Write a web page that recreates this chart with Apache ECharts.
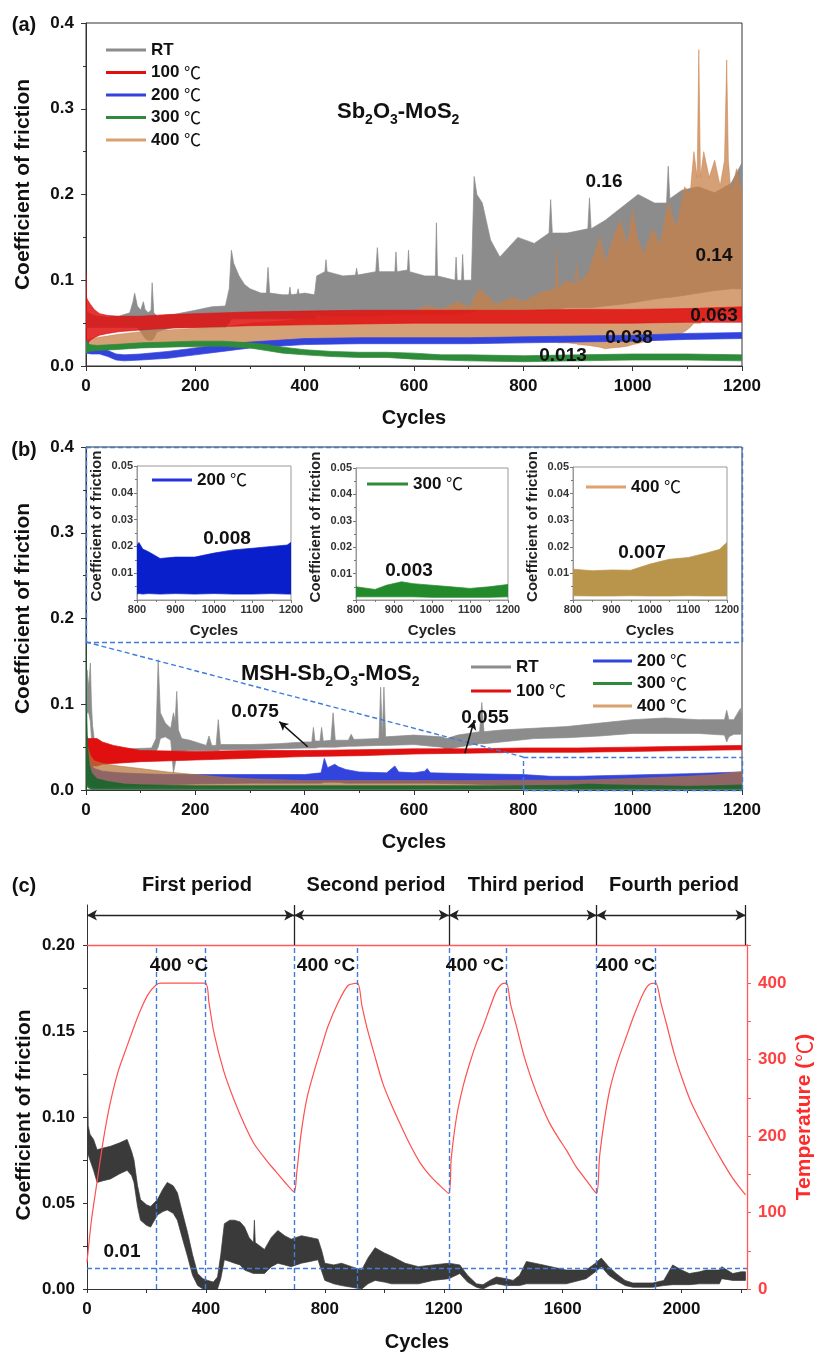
<!DOCTYPE html>
<html>
<head>
<meta charset="utf-8">
<script src="https://cdn.jsdelivr.net/npm/echarts@6/dist/echarts.min.js"></script>
<style>
  html, body { margin: 0; padding: 0; background: #fff; }
  #main { width: 816px; height: 1353px; }
</style>
</head>
<body>
<div id="main"></div>
<script>
var FONT = '"Liberation Sans", Arial, sans-serif';
var CJK = '"Noto Sans CJK SC", sans-serif';

// every noisy trace is kept as its envelope: [cycle, upper, lower]

// (a) Sb2O3-MoS2
var aRT = [[0,0.065,0.045],[5,0.062,0.045],[10,0.06,0.045],[20,0.058,0.045],[40,0.057,0.045],[60,0.058,0.045],[80,0.062,0.045],[86,0.075,0.045],[89,0.085,0.045],[94,0.07,0.045],[100,0.065,0.04],[105,0.075,0.035],[108,0.066,0.032],[114,0.062,0.03],[119,0.065,0.03],[121,0.097,0.03],[124,0.062,0.032],[130,0.058,0.04],[160,0.06,0.045],[200,0.065,0.045],[230,0.069,0.045],[255,0.07,0.045],[262,0.09,0.05],[266,0.135,0.055],[270,0.12,0.055],[280,0.105,0.055],[290,0.095,0.055],[300,0.09,0.055],[320,0.085,0.055],[330,0.085,0.055],[333,0.115,0.055],[336,0.085,0.055],[360,0.083,0.055],[371,0.083,0.055],[373,0.092,0.055],[375,0.083,0.055],[386,0.084,0.055],[388,0.09,0.055],[390,0.084,0.055],[400,0.085,0.055],[418,0.083,0.055],[422,0.105,0.058],[437,0.11,0.058],[439,0.124,0.058],[441,0.11,0.058],[470,0.105,0.058],[493,0.106,0.058],[495,0.114,0.058],[497,0.106,0.058],[530,0.11,0.058],[533,0.138,0.058],[536,0.11,0.058],[565,0.11,0.06],[567,0.133,0.06],[569,0.11,0.06],[588,0.112,0.06],[590,0.135,0.06],[592,0.11,0.06],[620,0.105,0.06],[639,0.105,0.06],[641,0.167,0.06],[643,0.105,0.06],[675,0.1,0.06],[677,0.127,0.06],[679,0.1,0.06],[687,0.1,0.06],[689,0.13,0.06],[691,0.1,0.062],[705,0.1,0.062],[710,0.221,0.062],[715,0.2,0.065],[725,0.19,0.065],[740,0.147,0.065],[757,0.127,0.065],[790,0.15,0.065],[820,0.143,0.065],[847,0.155,0.065],[850,0.194,0.065],[853,0.155,0.065],[880,0.155,0.068],[918,0.16,0.068],[921,0.196,0.068],[924,0.16,0.068],[950,0.17,0.07],[980,0.185,0.072],[1010,0.2,0.075],[1040,0.19,0.078],[1062,0.19,0.08],[1065,0.233,0.08],[1068,0.195,0.08],[1090,0.205,0.082],[1120,0.209,0.085],[1150,0.202,0.088],[1180,0.213,0.09],[1200,0.237,0.09]];
var a100 = [[0,0.108,0.02],[1,0.08,0.022],[3,0.077,0.026],[8,0.072,0.03],[15,0.066,0.033],[25,0.061,0.036],[40,0.059,0.038],[60,0.058,0.04],[100,0.058,0.042],[150,0.06,0.044],[200,0.061,0.045],[300,0.063,0.047],[400,0.064,0.048],[500,0.065,0.049],[600,0.065,0.05],[700,0.065,0.05],[800,0.065,0.05],[900,0.066,0.05],[1000,0.066,0.05],[1100,0.067,0.051],[1200,0.069,0.051]];
var a200 = [[0,0.03,0.015],[10,0.022,0.014],[25,0.021,0.014],[40,0.018,0.011],[55,0.014,0.007],[70,0.013,0.006],[100,0.014,0.007],[150,0.017,0.009],[200,0.021,0.013],[250,0.025,0.017],[300,0.028,0.021],[350,0.03,0.023],[400,0.032,0.025],[500,0.033,0.026],[600,0.033,0.026],[700,0.033,0.026],[800,0.034,0.027],[900,0.035,0.028],[1000,0.036,0.029],[1100,0.038,0.031],[1200,0.039,0.032]];
var a300 = [[0,0.03,0.015],[5,0.025,0.017],[20,0.024,0.018],[50,0.025,0.019],[100,0.027,0.021],[150,0.028,0.022],[200,0.029,0.023],[250,0.029,0.023],[300,0.027,0.021],[330,0.025,0.018],[360,0.022,0.015],[400,0.019,0.013],[450,0.017,0.011],[500,0.016,0.01],[550,0.016,0.01],[600,0.015,0.008],[650,0.013,0.007],[700,0.013,0.006],[800,0.012,0.005],[900,0.013,0.006],[1000,0.014,0.007],[1100,0.014,0.007],[1200,0.013,0.006]];
var a400 = [[0,0.03,0.018],[10,0.032,0.019],[30,0.034,0.02],[60,0.037,0.021],[100,0.04,0.022],[150,0.042,0.023],[200,0.044,0.022],[250,0.045,0.021],[280,0.048,0.021],[300,0.05,0.022],[350,0.052,0.025],[400,0.055,0.027],[450,0.058,0.028],[500,0.06,0.029],[550,0.062,0.03],[600,0.064,0.032],[625,0.07,0.032],[650,0.066,0.032],[680,0.075,0.032],[700,0.068,0.032],[720,0.09,0.031],[750,0.072,0.031],[780,0.08,0.03],[800,0.075,0.03],[830,0.085,0.029],[859,0.09,0.028],[861,0.132,0.028],[864,0.09,0.027],[880,0.1,0.027],[895,0.095,0.026],[897,0.12,0.026],[900,0.095,0.025],[920,0.11,0.024],[940,0.15,0.022],[950,0.12,0.02],[960,0.14,0.021],[977,0.17,0.022],[990,0.14,0.023],[1000,0.182,0.025],[1008,0.15,0.026],[1020,0.13,0.028],[1037,0.16,0.03],[1050,0.14,0.032],[1065,0.19,0.034],[1080,0.16,0.036],[1095,0.209,0.04],[1105,0.2,0.045],[1112,0.25,0.05],[1118,0.22,0.05],[1121,0.369,0.05],[1124,0.22,0.05],[1130,0.25,0.055],[1140,0.22,0.058],[1150,0.24,0.06],[1160,0.21,0.06],[1168,0.24,0.06],[1172,0.357,0.06],[1175,0.24,0.06],[1180,0.2,0.06],[1190,0.23,0.055],[1200,0.2,0.055]];

// (b) MSH-Sb2O3-MoS2
var bRT = [[0,0.13,0.09],[2,0.14,0.09],[5,0.12,0.09],[8,0.148,0.08],[10,0.1,0.06],[12,0.075,0.05],[15,0.06,0.045],[20,0.05,0.044],[40,0.048,0.044],[80,0.048,0.044],[120,0.049,0.045],[128,0.06,0.045],[132,0.152,0.05],[136,0.09,0.06],[145,0.078,0.062],[155,0.072,0.058],[160,0.09,0.02],[163,0.08,0.03],[166,0.115,0.045],[169,0.07,0.045],[175,0.06,0.045],[190,0.058,0.046],[220,0.052,0.046],[225,0.063,0.046],[230,0.052,0.046],[238,0.052,0.046],[242,0.082,0.046],[246,0.053,0.047],[300,0.053,0.047],[350,0.054,0.048],[400,0.056,0.049],[413,0.056,0.049],[416,0.073,0.049],[419,0.057,0.049],[428,0.057,0.05],[431,0.073,0.05],[434,0.057,0.05],[448,0.058,0.05],[452,0.09,0.05],[456,0.058,0.05],[480,0.058,0.051],[485,0.065,0.051],[490,0.059,0.051],[536,0.06,0.052],[539,0.12,0.052],[542,0.062,0.052],[545,0.12,0.052],[548,0.062,0.052],[600,0.064,0.053],[650,0.062,0.05],[660,0.06,0.047],[680,0.064,0.05],[700,0.066,0.052],[720,0.068,0.054],[724,0.102,0.054],[728,0.068,0.054],[760,0.07,0.056],[820,0.072,0.06],[880,0.074,0.061],[940,0.078,0.063],[1000,0.082,0.066],[1060,0.084,0.066],[1120,0.082,0.066],[1168,0.082,0.064],[1172,0.093,0.056],[1176,0.082,0.062],[1185,0.082,0.065],[1197,0.095,0.065],[1200,0.082,0.066]];
var b100 = [[0,0.065,0.02],[3,0.06,0.025],[10,0.06,0.028],[20,0.06,0.028],[30,0.056,0.03],[50,0.052,0.031],[100,0.046,0.033],[200,0.045,0.035],[300,0.046,0.037],[400,0.046,0.039],[500,0.047,0.04],[600,0.048,0.042],[700,0.048,0.043],[800,0.049,0.044],[900,0.049,0.044],[1000,0.05,0.045],[1100,0.051,0.046],[1200,0.052,0.047]];
var b200 = [[0,0.065,0.03],[3,0.045,0.01],[8,0.03,0.004],[15,0.025,0.003],[30,0.022,0.003],[60,0.02,0.004],[100,0.019,0.005],[150,0.018,0.006],[200,0.018,0.007],[300,0.018,0.008],[400,0.018,0.008],[430,0.02,0.008],[436,0.037,0.009],[442,0.026,0.009],[455,0.03,0.009],[462,0.027,0.009],[475,0.024,0.008],[500,0.021,0.008],[550,0.02,0.008],[565,0.028,0.008],[572,0.021,0.008],[600,0.02,0.008],[620,0.022,0.008],[624,0.025,0.008],[630,0.02,0.008],[700,0.019,0.007],[800,0.018,0.005],[850,0.016,0.003],[900,0.016,0.003],[1000,0.0175,0.003],[1100,0.019,0.003],[1200,0.021,0.003]];
var b300 = [[0,0.172,0.0],[1,0.1,0.01],[3,0.05,0.003],[6,0.03,0.002],[10,0.02,0.001],[20,0.013,0.001],[40,0.01,0.001],[70,0.007,0.001],[100,0.006,0.001],[200,0.005,0.001],[400,0.005,0.001],[600,0.005,0.001],[800,0.005,0.0012],[880,0.0056,0.001],[920,0.0069,0.001],[950,0.0062,0.001],[1000,0.0056,0.001],[1050,0.005,0.001],[1100,0.0044,0.001],[1150,0.005,0.001],[1200,0.0059,0.001]];
var b400 = [[0,0.075,0.01],[3,0.05,0.005],[8,0.04,0.004],[15,0.034,0.004],[30,0.031,0.003],[60,0.028,0.003],[100,0.025,0.003],[150,0.021,0.003],[200,0.018,0.003],[250,0.015,0.003],[300,0.013,0.003],[400,0.011,0.003],[500,0.011,0.002],[600,0.011,0.002],[700,0.011,0.002],[800,0.0115,0.002],[900,0.0113,0.002],[1000,0.0135,0.002],[1100,0.016,0.002],[1150,0.0178,0.002],[1200,0.0216,0.002]];

// (b) insets, 800-1200 cycles
var i200 = [[800,0.0205,0.0022],[805,0.0215,0.0024],[815,0.019,0.0022],[830,0.018,0.0024],[860,0.0155,0.0022],[900,0.016,0.0024],[950,0.016,0.0022],[1000,0.0175,0.0024],[1050,0.0187,0.0022],[1100,0.0193,0.0022],[1150,0.02,0.0024],[1190,0.0205,0.0022],[1200,0.0215,0.0022]];
var i300 = [[800,0.005,0.0012],[850,0.004,0.0012],[880,0.0056,0.0012],[920,0.0069,0.0012],[950,0.0062,0.0012],[1000,0.0056,0.001],[1050,0.005,0.001],[1100,0.0044,0.001],[1150,0.005,0.001],[1200,0.0059,0.0012]];
var i400 = [[800,0.0116,0.0016],[850,0.011,0.0015],[900,0.0113,0.0015],[950,0.0112,0.0016],[1000,0.0135,0.0015],[1050,0.0153,0.0015],[1100,0.016,0.0016],[1150,0.0178,0.0015],[1180,0.019,0.0015],[1195,0.021,0.0015],[1200,0.0216,0.0016]];

// (c) thermal cycling
var cFriction = [[0,0.09,0.075],[2,0.139,0.08],[4,0.095,0.078],[10,0.09,0.075],[22,0.087,0.069],[34,0.081,0.062],[55,0.082,0.063],[79,0.083,0.064],[110,0.085,0.067],[135,0.087,0.069],[150,0.08,0.066],[158,0.075,0.062],[170,0.06,0.048],[180,0.052,0.04],[200,0.049,0.037],[214,0.048,0.036],[237,0.052,0.043],[255,0.058,0.045],[270,0.062,0.046],[290,0.06,0.044],[304,0.056,0.04],[320,0.045,0.03],[338,0.033,0.019],[355,0.02,0.008],[372,0.009,0.002],[390,0.006,0.0],[406,0.005,0.0],[425,0.004,0.0],[439,0.007,0.0],[450,0.02,0.006],[462,0.038,0.017],[480,0.04,0.016],[496,0.04,0.015],[515,0.039,0.014],[530,0.036,0.011],[545,0.03,0.01],[560,0.027,0.009],[563,0.04,0.009],[566,0.027,0.009],[597,0.023,0.009],[620,0.03,0.013],[642,0.034,0.015],[665,0.031,0.014],[687,0.029,0.013],[721,0.031,0.015],[750,0.03,0.016],[777,0.029,0.017],[790,0.022,0.01],[800,0.015,0.005],[830,0.014,0.003],[856,0.015,0.002],[890,0.013,0.001],[924,0.011,0.0],[945,0.018,0.003],[969,0.024,0.005],[1000,0.021,0.004],[1025,0.019,0.003],[1070,0.015,0.003],[1115,0.013,0.003],[1164,0.014,0.005],[1217,0.015,0.006],[1254,0.014,0.009],[1280,0.008,0.004],[1310,0.003,0.001],[1332,0.0025,0.0],[1355,0.005,0.002],[1377,0.007,0.003],[1410,0.006,0.002],[1433,0.005,0.002],[1455,0.008,0.002],[1478,0.016,0.003],[1534,0.014,0.003],[1612,0.011,0.003],[1679,0.011,0.006],[1710,0.015,0.01],[1730,0.018,0.013],[1755,0.013,0.008],[1780,0.009,0.005],[1810,0.005,0.002],[1836,0.0035,0.001],[1903,0.0035,0.001],[1940,0.005,0.002],[1970,0.014,0.0025],[2000,0.011,0.0025],[2026,0.009,0.0025],[2060,0.01,0.003],[2082,0.011,0.003],[2127,0.011,0.003],[2135,0.013,0.006],[2172,0.009,0.005],[2200,0.01,0.005],[2215,0.01,0.005]];
var cTemp = [[0,35],[15,90],[33,138],[55,195],[78,243],[105,285],[134,317],[160,345],[179,364],[205,385],[233,398],[250,400],[397,400],[410,375],[427,335],[460,285],[495,247],[530,215],[562,190],[600,170],[630,156],[665,140],[697,127],[705,150],[720,203],[740,250],[765,286],[790,318],[810,343],[845,375],[878,397],[910,400],[925,370],[941,343],[968,305],[995,269],[1025,240],[1052,217],[1085,190],[1119,166],[1150,150],[1185,136],[1217,125],[1225,170],[1243,225],[1265,265],[1287,295],[1310,322],[1332,343],[1355,368],[1377,390],[1395,399],[1411,400],[1425,372],[1445,343],[1470,305],[1500,269],[1528,241],[1556,217],[1585,198],[1612,182],[1645,160],[1680,142],[1714,125],[1724,173],[1740,220],[1758,260],[1785,298],[1814,330],[1840,358],[1870,386],[1890,398],[1913,400],[1930,375],[1949,347],[1975,308],[2004,273],[2030,246],[2061,221],[2095,196],[2128,173],[2170,146],[2215,123]];
var cPeriodEdges = [0, 697, 1217, 1714, 2215];
var cBlueX = [232, 397, 697, 910, 1217, 1411, 1714, 1913];
var cLevel = 0.012;
var cXLabels = [0, 400, 800, 1200, 1600, 2000];
var cXTicks = [0, 200, 400, 600, 800, 1000, 1200, 1400, 1600, 1800, 2000, 2200];
var cYLabels = [0, 0.05, 0.1, 0.15, 0.2];
var cYTicks = [0, 0.025, 0.05, 0.075, 0.1, 0.125, 0.15, 0.175, 0.2];

var chart = echarts.init(document.getElementById('main'));

function lab(size, color) {
  return {fontFamily: FONT, fontWeight: 'bold', fontSize: size, color: color || '#111'};
}
function plain(v) { return String(v); }

// envelope polygon: upper edge forward, lower edge back, placed with the axis scales
function band(rows, name, gi, color, op, z) {
  return {
    name: name, type: 'custom', xAxisIndex: gi, yAxisIndex: gi, z: z, silent: true,
    color: color, clip: true,
    data: rows,
    encode: {x: 0, y: [1, 2]},
    renderItem: function (params, api) {
      if (params.dataIndex !== 0) return null;
      var pts = [];
      for (var i = 0; i < rows.length; i++) pts.push(api.coord([rows[i][0], rows[i][1]]));
      for (var j = rows.length - 1; j >= 0; j--) pts.push(api.coord([rows[j][0], rows[j][2]]));
      return {
        type: 'polygon', shape: {points: pts},
        style: {fill: color, stroke: color, lineWidth: 0.7, opacity: op}
      };
    }
  };
}

function mainX(gi) {
  return {
    gridIndex: gi, type: 'value', min: 0, max: 1200, interval: 200,
    axisLine: {show: true, onZero: false, lineStyle: {color: '#333'}},
    axisTick: {show: true, length: 5, lineStyle: {color: '#333'}},
    minorTick: {show: true, splitNumber: 2, length: 3, lineStyle: {color: '#333'}},
    splitLine: {show: false}, minorSplitLine: {show: false},
    axisLabel: Object.assign(lab(17), {margin: 12, formatter: plain}),
    name: 'Cycles', nameLocation: 'middle', nameGap: 42, nameMoveOverlap: false,
    nameTextStyle: lab(20)
  };
}
function mainY(gi) {
  return {
    gridIndex: gi, type: 'value', min: 0, max: 0.4, interval: 0.1,
    axisLine: {show: true, onZero: false, lineStyle: {color: '#333'}},
    axisTick: {show: true, length: 5, lineStyle: {color: '#333'}},
    minorTick: {show: true, splitNumber: 2, length: 3, lineStyle: {color: '#333'}},
    splitLine: {show: false}, minorSplitLine: {show: false},
    axisLabel: Object.assign(lab(17), {margin: 12, formatter: function (v) { return v.toFixed(1); }}),
    name: 'Coefficient of friction', nameLocation: 'middle', nameGap: 52, nameRotate: 90, nameMoveOverlap: false,
    nameTextStyle: Object.assign(lab(21), {padding: [0, 0, 0, 20]})
  };
}
function insetX(gi) {
  return {
    gridIndex: gi, type: 'value', min: 800, max: 1200, interval: 100,
    axisLine: {show: true, onZero: false, lineStyle: {color: '#999'}},
    axisTick: {show: true, length: 3, lineStyle: {color: '#777'}},
    minorTick: {show: true, splitNumber: 2, length: 2, lineStyle: {color: '#777'}},
    splitLine: {show: false},
    axisLabel: Object.assign(lab(11, '#333'), {margin: 4, formatter: plain}),
    name: 'Cycles', nameLocation: 'middle', nameGap: 23, nameMoveOverlap: false,
    nameTextStyle: lab(15, '#222')
  };
}
function insetY(gi) {
  return {
    gridIndex: gi, type: 'value', min: 0, max: 0.05, interval: 0.01,
    axisLine: {show: true, onZero: false, lineStyle: {color: '#999'}},
    axisTick: {show: true, length: 3, lineStyle: {color: '#777'}},
    minorTick: {show: true, splitNumber: 2, length: 2, lineStyle: {color: '#777'}},
    splitLine: {show: false},
    axisLabel: Object.assign(lab(11, '#333'), {margin: 4, showMinLabel: false, formatter: function (v) { return v.toFixed(2); }}),
    name: 'Coefficient of friction', nameLocation: 'middle', nameGap: 33, nameRotate: 90, nameMoveOverlap: false,
    nameTextStyle: Object.assign(lab(15, '#222'), {padding: [0, 0, 0, 14]})
  };
}

function legendBox(left, top, gap, itemW, items) {
  return {
    left: left, top: top, orient: 'vertical', itemWidth: itemW, itemHeight: 3, itemGap: gap,
    selectedMode: false, padding: 0,
    textStyle: {fontFamily: FONT, fontWeight: 'bold', fontSize: 17, color: '#111', lineHeight: 18,
      rich: {u: {fontFamily: CJK, fontWeight: 'normal', fontSize: 17, color: '#111', lineHeight: 18}}},
    formatter: function (n) { return n.replace('℃', '{u|℃}'); },
    data: items.map(function (it) { return {name: it[0], icon: 'rect', itemStyle: {color: it[1], borderWidth: 0}}; })
  };
}

function seg(p, q) { return [{coord: p}, {coord: q}]; }

var series = [
  band(aRT, 'RT', 0, '#8c8c8c', 1, 2),
  band(a400, '400 ℃', 0, '#c8804a', 0.75, 2),
  band(a100, '100 ℃', 0, '#e01010', 0.85, 2),
  band(a200, '200 ℃', 0, '#3344dd', 1, 2),
  band(a300, '300 ℃', 0, '#2e8b3a', 1, 2),
  band(bRT, 'RT', 1, '#8c8c8c', 1, 2),
  band(b100, '100 ℃', 1, '#e01010', 1, 2),
  band(b200, '200 ℃', 1, '#3344dd', 1, 2),
  band(b400, '400 ℃', 1, '#b47238', 0.72, 2),
  band(b300, '300 ℃', 1, '#17652a', 0.9, 2),
  band(i200, '200 ℃', 2, '#0a1fcc', 1, 2),
  band(i300, '300 ℃', 3, '#238a2b', 1, 2),
  band(i400, '400 ℃', 4, '#b8954a', 1, 2),
  band(cFriction, 'COF', 5, '#3a3a3a', 1, 2)
];

series.push({
  name: 'Temperature', type: 'line', xAxisIndex: 6, yAxisIndex: 6, z: 3,
  symbol: 'none', smooth: 0.25, silent: true,
  lineStyle: {color: '#ff4f4f', width: 1.2},
  data: cTemp
});

// zoom frame of panel (b)
series.push({
  name: '_zoomb', type: 'line', xAxisIndex: 1, yAxisIndex: 1, data: [], z: 5,
  markLine: {
    silent: true, animation: false, symbol: 'none', label: {show: false},
    lineStyle: {color: '#3f7bd8', width: 1.4, type: [5, 3]},
    data: [
      seg([0, 0.4], [1200, 0.4]), seg([1200, 0.1726], [1200, 0.4]), seg([0, 0.1726], [0, 0.4]),
      seg([0, 0.1726], [1200, 0.1726]), seg([0, 0.1726], [800, 0.0385]),
      seg([800, 0.0385], [1200, 0.0385]), seg([800, 0], [800, 0.0385]),
      seg([1200, 0], [1200, 0.0385]), seg([800, 0], [1200, 0])
    ]
  }
});
series.push({
  name: '_arrowb', type: 'line', xAxisIndex: 1, yAxisIndex: 1, data: [], z: 6,
  markLine: {
    silent: true, animation: false, symbol: ['none', 'arrow'], symbolSize: [7, 9], label: {show: false},
    lineStyle: {color: '#111', width: 1.5, type: 'solid'},
    data: [seg([405.5, 0.0505], [353.6, 0.0797]), seg([693, 0.0428], [710, 0.0808])]
  }
});

// guides of panel (c)
var cBlue = cBlueX.map(function (x) { return seg([x, 0], [x, 0.2]); });
cBlue.push(seg([0, cLevel], [2220, cLevel]));
series.push({
  name: '_bluec', type: 'line', xAxisIndex: 5, yAxisIndex: 5, data: [], z: 5,
  markLine: {
    silent: true, animation: false, symbol: 'none', label: {show: false},
    lineStyle: {color: '#3f7bd8', width: 1.4, type: [5, 3]},
    data: cBlue
  }
});
var cBlack = cPeriodEdges.slice(1).map(function (x) { return seg([x, 0.2], [x, 0.2233]); });
series.push({
  name: '_edgec', type: 'line', xAxisIndex: 5, yAxisIndex: 5, data: [], z: 5,
  markLine: {
    silent: true, animation: false, symbol: 'none', label: {show: false},
    lineStyle: {color: '#222', width: 1.3, type: 'solid'},
    data: cBlack
  }
});
var cArrows = [];
for (var k = 0; k < cPeriodEdges.length - 1; k++) {
  cArrows.push(seg([cPeriodEdges[k], 0.2174], [cPeriodEdges[k + 1], 0.2174]));
}
series.push({
  name: '_arrowc', type: 'line', xAxisIndex: 5, yAxisIndex: 5, data: [], z: 5,
  markLine: {
    silent: true, animation: false, symbol: ['arrow', 'arrow'], symbolSize: [8, 10], label: {show: false},
    lineStyle: {color: '#222', width: 1.3, type: 'solid'},
    data: cArrows
  }
});

function note(t, x, y, size, align) {
  return {type: 'text', x: x, y: y, z: 100, silent: true,
    style: {text: t, fill: '#111', fontFamily: FONT, fontWeight: 'bold', fontSize: size,
      align: align || 'center', verticalAlign: 'middle'}};
}
function formula(t, x, y) {
  return {type: 'text', x: x, y: y, z: 100, silent: true,
    style: {text: t, fill: '#111', align: 'left', verticalAlign: 'middle',
      rich: {
        m: {fontFamily: FONT, fontWeight: 'bold', fontSize: 22, lineHeight: 30, verticalAlign: 'middle', fill: '#111'},
        s: {fontFamily: FONT, fontWeight: 'bold', fontSize: 14, lineHeight: 30, verticalAlign: 'bottom', fill: '#111'}
      }}};
}

var graphics = [
  note('(a)', 24, 25, 20), note('(b)', 24, 450, 20), note('(c)', 24, 886, 20),
  formula('{m|Sb}{s|2}{m|O}{s|3}{m|-MoS}{s|2}', 337, 112),
  formula('{m|MSH-Sb}{s|2}{m|O}{s|3}{m|-MoS}{s|2}', 241, 674),
  note('0.16', 604, 182, 19), note('0.14', 714, 256, 19), note('0.063', 714, 316, 19),
  note('0.038', 629, 338, 19), note('0.013', 563, 356, 19),
  note('0.075', 255, 712, 19), note('0.055', 485, 718, 19),
  note('0.008', 227, 539, 19), note('0.003', 409, 571, 19), note('0.007', 642, 553, 19),
  note('First period', 197, 885, 20), note('Second period', 376, 885, 20),
  note('Third period', 526, 885, 20), note('Fourth period', 674, 885, 20),
  note('400 °C', 179, 966, 19), note('400 °C', 326, 966, 19), note('400 °C', 475, 966, 19), note('400 °C', 626, 966, 19),
  note('0.01', 122, 1252, 19)
];

var mainColors = [['RT', '#8c8c8c'], ['100 ℃', '#e01010'], ['200 ℃', '#3344dd'], ['300 ℃', '#2e8b3a'], ['400 ℃', '#d9a070']];

var option = {
  animation: false,
  textStyle: {fontFamily: FONT},
  grid: [
    {left: 86, top: 23, width: 656, height: 343, show: true, borderColor: '#333', borderWidth: 1, outerBoundsMode: 'none', containLabel: false},
    {left: 86, top: 447, width: 656, height: 343, show: true, borderColor: '#333', borderWidth: 1, outerBoundsMode: 'none', containLabel: false},
    {left: 137, top: 466, width: 154, height: 134, show: true, borderColor: '#999', borderWidth: 1, outerBoundsMode: 'none', containLabel: false},
    {left: 356, top: 468, width: 152, height: 132, show: true, borderColor: '#999', borderWidth: 1, outerBoundsMode: 'none', containLabel: false},
    {left: 573, top: 467, width: 154, height: 133, show: true, borderColor: '#999', borderWidth: 1, outerBoundsMode: 'none', containLabel: false},
    {left: 87, top: 905, width: 660, height: 384, outerBoundsMode: 'none', containLabel: false},
    {left: 87, top: 945, width: 660, height: 344, outerBoundsMode: 'none', containLabel: false}
  ],
  xAxis: [
    mainX(0), mainX(1), insetX(2), insetX(3), insetX(4),
    {
      gridIndex: 5, type: 'value', min: 0, max: 2220,
      axisLine: {show: true, onZero: false, lineStyle: {color: '#333'}},
      axisTick: {show: true, length: 4, customValues: cXTicks, lineStyle: {color: '#333'}},
      splitLine: {show: false},
      axisLabel: Object.assign(lab(17), {margin: 12, customValues: cXLabels, formatter: plain}),
      name: 'Cycles', nameLocation: 'middle', nameGap: 43, nameMoveOverlap: false,
      nameTextStyle: lab(20)
    },
    {
      gridIndex: 6, type: 'value', min: 0, max: 2220, position: 'top',
      axisLine: {show: true, onZero: false, lineStyle: {color: '#ff5a5a', width: 1.3}},
      axisTick: {show: false}, axisLabel: {show: false}, splitLine: {show: false}
    }
  ],
  yAxis: [
    mainY(0), mainY(1), insetY(2), insetY(3), insetY(4),
    {
      gridIndex: 5, type: 'value', min: 0, max: 0.2233,
      axisLine: {show: true, onZero: false, lineStyle: {color: '#333'}},
      axisTick: {show: true, length: 4, customValues: cYTicks, lineStyle: {color: '#333'}},
      splitLine: {show: false},
      axisLabel: Object.assign(lab(17), {margin: 12, customValues: cYLabels, formatter: function (v) { return v.toFixed(2); }}),
      name: 'Coefficient of friction', nameLocation: 'middle', nameGap: 52, nameRotate: 90, nameMoveOverlap: false,
      nameTextStyle: Object.assign(lab(21), {padding: [0, 36, 0, 0]})
    },
    {
      gridIndex: 6, type: 'value', min: 0, max: 450, interval: 50, position: 'right',
      axisLine: {show: true, onZero: false, lineStyle: {color: '#ff5a5a', width: 1.3}},
      axisTick: {show: true, length: 4, lineStyle: {color: '#ff5a5a'}},
      splitLine: {show: false},
      axisLabel: Object.assign(lab(17, '#ff4040'), {margin: 11, formatter: function (v) { return v % 100 === 0 ? String(v) : ''; }}),
      name: 'Temperature ({u|℃})', nameLocation: 'middle', nameGap: 47, nameRotate: 90, nameMoveOverlap: false,
      nameTextStyle: Object.assign(lab(21, '#ff2a2a'), {
        rich: {u: {fontFamily: CJK, fontWeight: 'normal', fontSize: 21, color: '#ff2a2a'}}
      })
    }
  ],
  legend: [
    legendBox(106, 41, 4.5, 40, mainColors),
    legendBox(471, 658, 6, 40, mainColors.slice(0, 2)),
    legendBox(593, 652, 4.5, 39, mainColors.slice(2)),
    legendBox(152, 471, 4, 40, [['200 ℃', '#2233dd']]),
    legendBox(367, 475, 4, 41, [['300 ℃', '#2e8b3a']]),
    legendBox(586, 478, 4, 40, [['400 ℃', '#e0a070']])
  ],
  graphic: graphics,
  series: series
};

chart.setOption(option);
</script>
</body>
</html>
